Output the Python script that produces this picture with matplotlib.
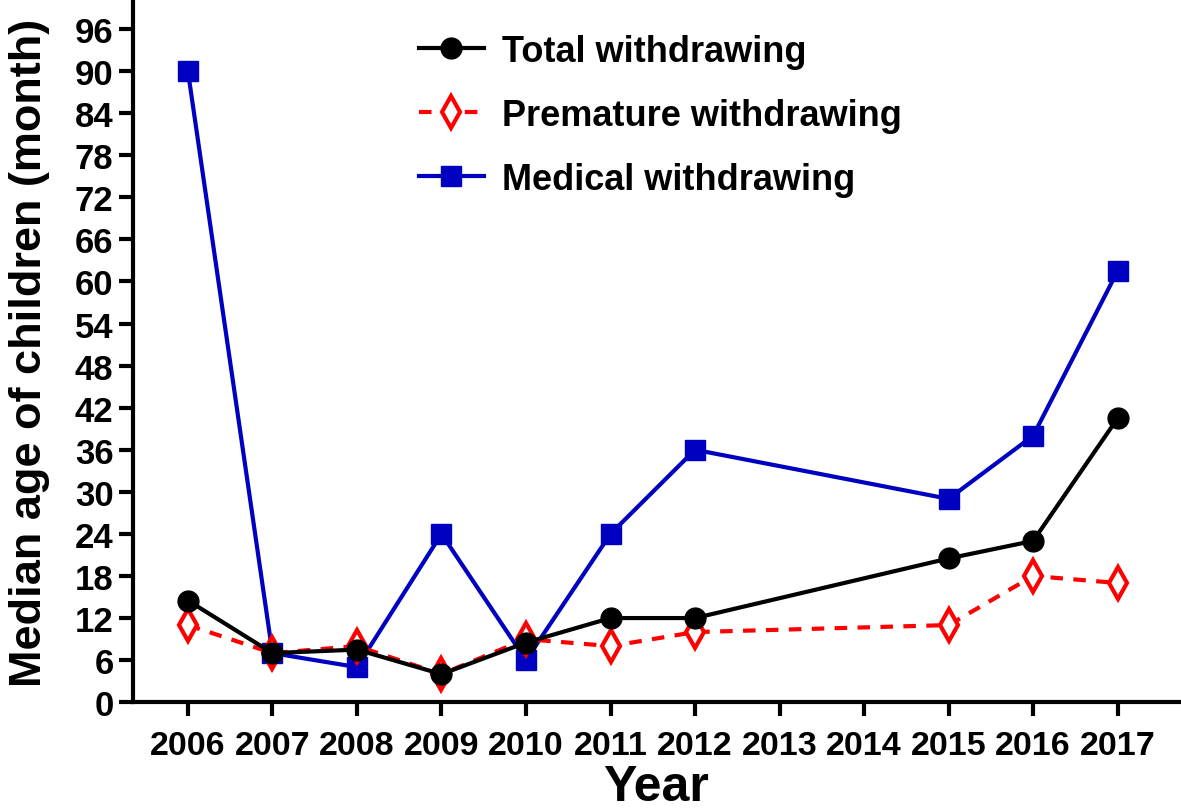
import matplotlib
matplotlib.use("Agg")
import matplotlib.pyplot as plt

years = [2006, 2007, 2008, 2009, 2010, 2011, 2012, 2015, 2016, 2017]
total = [14.5, 7, 7.5, 4, 8.5, 12, 12, 20.5, 23, 40.5]
premature = [11, 7, 8, 4, 9, 8, 10, 11, 18, 17]
medical = [90, 7, 5, 24, 6, 24, 36, 29, 38, 61.5]
xticks = list(range(2006, 2018))
yticks = list(range(0, 97, 6))

plt.rcParams['font.family'] = ['Liberation Sans', 'DejaVu Sans']
plt.rcParams['font.weight'] = 'bold'

fig = plt.figure(figsize=(11.81, 8.12), dpi=100)
ax = fig.add_axes([0.1126, 0.134, 0.886, 0.8635])

ax.plot(years, total, color='black', lw=3, marker='o', ms=15, label='Total withdrawing', zorder=4)
ax.plot(years, premature, color='#ff0000', lw=3, ls=(0, (3, 2.5)), marker='d', ms=16,
        mfc='white', mec='#ff0000', mew=3, label='Premature withdrawing', zorder=3)
ax.plot(years, medical, color='#0000c0', lw=3, marker='s', ms=15, label='Medical withdrawing', zorder=2)

ax.set_xlim(2005.35, 2017.73)
ax.set_ylim(0, 100)
ax.set_xticks(xticks)
ax.set_yticks(yticks)
ax.set_xticklabels([str(x) for x in xticks], fontsize=24.5, fontweight='bold')
ax.set_yticklabels([str(y) for y in yticks], fontsize=25, fontweight='bold')
for s in ['top', 'right']:
    ax.spines[s].set_visible(False)
for s in ['left', 'bottom']:
    ax.spines[s].set_linewidth(3)
ax.tick_params(axis='both', width=3, length=10, direction='out')
ax.tick_params(axis='x', pad=10)
ax.tick_params(axis='y', pad=4)

ax.set_xlabel('Year', fontsize=36, fontweight='bold', labelpad=2)
ax.set_ylabel('Median age of children (month)', fontsize=32.5, fontweight='bold', labelpad=18)

leg = ax.legend(loc='upper left', bbox_to_anchor=(0.256, 0.979), frameon=False,
                borderpad=0, labelspacing=0.8, handlelength=1.8, handletextpad=0.5,
                prop={'weight': 'bold', 'size': 26})

fig.savefig('out.png', dpi=100)
